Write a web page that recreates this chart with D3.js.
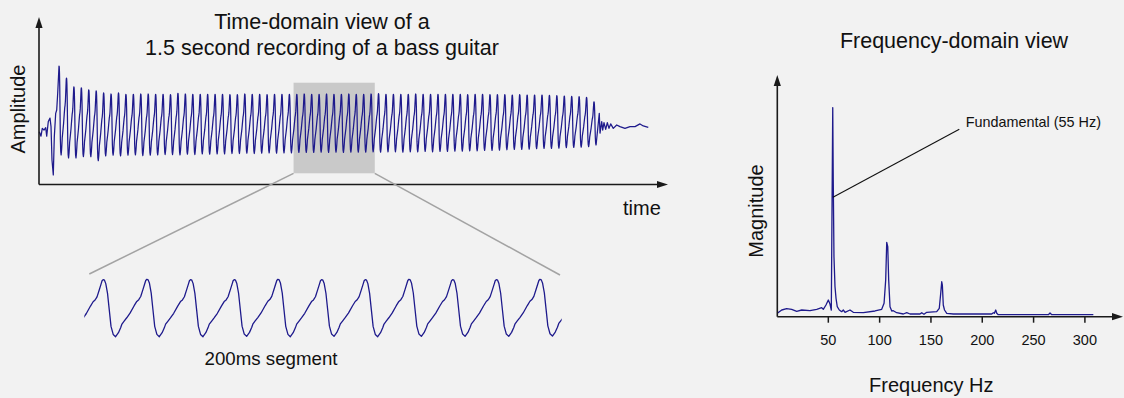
<!DOCTYPE html>
<html>
<head>
<meta charset="utf-8">
<script src="https://cdn.jsdelivr.net/npm/d3@7"></script>
<style>
  html, body { margin: 0; padding: 0; background: #f2f2f2; }
  svg { display: block; font-family: "Liberation Sans", Arial, Helvetica, sans-serif; }
</style>
</head>
<body>
<svg id="chart" width="1124" height="398"></svg>
<script>
// ---------------- time-domain recording (seconds, relative amplitude) ----------------
const recordingLength = 1.5;
const firstPeakTime = 0.0493;       // first string-pluck peak
const period = 0.0183;              // one cycle of the ~55 Hz note

// pick attack before the first full cycle: [time, amplitude]
const onset = [
  [0.0007, -0.11], [0.0049, -0.24], [0.0081, -0.01], [0.0123, -0.06],
  [0.0165, 0.01], [0.0190, -0.24], [0.0229, 0.19], [0.0271, 0.29],
  [0.0296, 0.04], [0.0320, -0.94], [0.0352, -1.38], [0.0377, -0.26],
  [0.0411, 0.43], [0.0436, 0.53], [0.0461, 1.03]
];

// one cycle of the waveform: [phase from peak, level between trough (0) and peak (1)]
const troughPhase = 0.285;
const periodShape = [
  [0, 1], [0.03, 0.99], [0.06, 0.93], [0.10, 0.76], [0.14, 0.47], [0.18, 0.18],
  [0.23, 0.04], [0.285, 0], [0.35, 0.07], [0.40, 0.155], [0.43, 0.22], [0.48, 0.27],
  [0.54, 0.33], [0.615, 0.41], [0.71, 0.54], [0.77, 0.615], [0.815, 0.645],
  [0.86, 0.70], [0.91, 0.82], [0.955, 0.93], [0.975, 0.98]
];

// peak and trough amplitude of each cycle
const cyclePeaks = [
  1.82, 1.47, 1.21, 1.18, 1.12, 1.09, 1.03, 1.00, 1.03, 0.99,
  0.99, 1.00, 1.00, 0.99, 0.99, 0.98, 1.02, 1.00, 0.99, 0.99,
  0.99, 0.99, 0.99, 0.98, 0.98, 1.00, 0.99, 0.99, 0.98, 0.99,
  0.99, 0.99, 0.99, 1.00, 0.99, 0.99, 1.00, 0.99, 0.99, 1.00,
  0.99, 0.99, 1.00, 1.01, 0.99, 0.99, 0.99, 0.99, 1.00, 0.99,
  0.99, 0.99, 0.99, 0.99, 0.99, 0.98, 0.99, 0.99, 0.98, 0.98,
  0.98, 0.97, 0.98, 0.97, 0.97, 0.97, 0.96, 0.95, 0.94, 0.93,
  0.92, 0.90, 0.77
];
const cycleTroughs = [
  -0.79, -0.88, -0.88, -0.84, -0.84, -0.96, -0.82, -0.80, -0.82, -0.80,
  -0.79, -0.81, -0.80, -0.79, -0.78, -0.78, -0.79, -0.77, -0.78, -0.76,
  -0.77, -0.76, -0.76, -0.75, -0.75, -0.74, -0.75, -0.74, -0.73, -0.74,
  -0.73, -0.73, -0.72, -0.72, -0.72, -0.71, -0.72, -0.71, -0.72, -0.71,
  -0.71, -0.71, -0.70, -0.71, -0.70, -0.70, -0.71, -0.70, -0.70, -0.69,
  -0.70, -0.69, -0.69, -0.68, -0.68, -0.67, -0.67, -0.66, -0.66, -0.65,
  -0.64, -0.63, -0.63, -0.62, -0.61, -0.60, -0.60, -0.59, -0.58, -0.57,
  -0.56, -0.55, -0.50
];

// string damped: residual ringing at the end
const tail = [
  [1.3800, 0.43], [1.3818, -0.15], [1.3860, 0.19], [1.3884, -0.06],
  [1.3916, 0.16], [1.3958, -0.04], [1.3998, 0.16], [1.4039, -0.01],
  [1.4081, 0.12], [1.4145, -0.01], [1.4229, 0.09], [1.4310, 0.04],
  [1.4433, -0.01], [1.4557, 0.04], [1.4680, 0.04], [1.4803, 0.12],
  [1.4884, 0.06], [1.5007, 0.02]
];

// the 200 ms excerpt shown enlarged
const segmentWindow = [0.627, 0.827];

// ---------------- frequency-domain view ----------------
const spectrumFreq = [
  0.8, 5.1, 9.9, 14.8, 19.7, 24.6, 32.6, 39.2, 44.0, 45.6, 48.2, 50.5, 52.1, 53.4,
  54.8, 55.3, 56.0, 57.0, 58.0, 59.2, 61.2, 63.5, 65.1, 66.8, 71.6, 74.8, 84.6, 96.0,
  102.5, 104.8, 106.4, 107.4, 108.4, 109.3, 110.6, 112.3, 113.8, 117.1, 123.6, 126.9,
  130.1, 139.8, 141.5, 143.7, 146.4, 156.1, 158.6, 160.0, 161.0, 161.6, 162.5, 163.7,
  165.9, 172.3, 209.7, 211.3, 212.3, 213.6, 214.6, 216.1, 264.9, 266.5, 268.2, 308.7
];
const spectrumMag = [
  1.44, 2.84, 3.39, 3.14, 2.29, 2.84, 2.6, 3.14, 3.8, 3.14, 4.96, 7.08, 5.38, 2.84,
  88.6, 57.9, 25.4, 12.7, 7.8, 4.24, 2.84, 2.12, 2.84, 1.86, 2.84, 1.86, 1.74, 2.42,
  3.14, 5.68, 15.6, 31.5, 29.7, 15.6, 4.24, 2.42, 2.54, 1.69, 1.14, 1.69,
  1.14, 1.14, 1.69, 1.02, 1.86, 2.12, 3.56, 9.9, 14.8, 13.4, 4.96, 2.84,
  1.44, 1.14, 1.14, 1.69, 1.44, 2.84, 1.44, 0.85, 0.85, 1.57, 0.85, 0.85
];
const freqTicks = [50, 100, 150, 200, 250, 300];
const fundamentalFreq = 55;
const fundamentalLabel = "Fundamental (55 Hz)";

// ---------------- build the sampled waveform ----------------
const samples = onset.slice();
cyclePeaks.forEach((peak, k) => {
  const t0 = firstPeakTime + k * period;
  const trough = cycleTroughs[k];
  const next = k + 1 < cyclePeaks.length ? cyclePeaks[k + 1] : null;
  periodShape.forEach(([phase, level]) => {
    if (next === null && phase > troughPhase) return;
    const top = phase <= troughPhase ? peak : next;
    samples.push([t0 + phase * period, trough + level * (top - trough)]);
  });
});
tail.forEach(p => samples.push(p));

// ---------------- drawing ----------------
const svg = d3.select("#chart");
const ink = "#1a1a1a";
const waveColor = "#1e1a8c";

svg.append("rect").attr("width", 1124).attr("height", 398).attr("fill", "#f2f2f2");

function arrowAxis(x1, y1, x2, y2) {
  // axis line ending in a filled arrowhead at (x2, y2)
  const ang = Math.atan2(y2 - y1, x2 - x1);
  const len = 11, half = 3.6;
  const bx = x2 - len * Math.cos(ang), by = y2 - len * Math.sin(ang);
  svg.append("line")
    .attr("x1", x1).attr("y1", y1).attr("x2", bx).attr("y2", by)
    .attr("stroke", ink).attr("stroke-width", 1.6);
  svg.append("path")
    .attr("d", `M${x2},${y2}L${bx - half * Math.sin(ang)},${by + half * Math.cos(ang)}` +
               `L${bx + half * Math.sin(ang)},${by - half * Math.cos(ang)}Z`)
    .attr("fill", ink);
}

// ----- time-domain panel -----
const xTime = d3.scaleLinear().domain([0, recordingLength]).range([39, 648]);
const yAmp = d3.scaleLinear().domain([-1, 1]).range([162, 94]);

// highlighted excerpt
svg.append("rect")
  .attr("x", xTime(segmentWindow[0]))
  .attr("y", 82.7)
  .attr("width", xTime(segmentWindow[1]) - xTime(segmentWindow[0]))
  .attr("height", 173.3 - 82.7)
  .attr("fill", "#c9c9c9");

const waveLine = d3.line().x(d => xTime(d[0])).y(d => yAmp(d[1]));
svg.append("path")
  .datum(samples)
  .attr("d", waveLine)
  .attr("fill", "none")
  .attr("stroke", waveColor)
  .attr("stroke-width", 1.25)
  .attr("stroke-linejoin", "round");

arrowAxis(39, 184.5, 39, 17);
arrowAxis(39, 184.5, 668, 184.5);

svg.append("text").attr("x", 322).attr("y", 29.3).attr("text-anchor", "middle")
  .attr("font-size", 21.5).attr("fill", "#111").text("Time-domain view of a");
svg.append("text").attr("x", 322).attr("y", 55).attr("text-anchor", "middle")
  .attr("font-size", 21.5).attr("fill", "#111").text("1.5 second recording of a bass guitar");
svg.append("text").attr("transform", "translate(25,109) rotate(-90)")
  .attr("text-anchor", "middle").attr("font-size", 20).attr("fill", "#111").text("Amplitude");
svg.append("text").attr("x", 623).attr("y", 215)
  .attr("font-size", 20).attr("fill", "#111").text("time");

// ----- enlarged excerpt -----
const xSeg = d3.scaleLinear().domain(segmentWindow).range([84.3, 561.7]);
const ySeg = d3.scaleLinear().domain([-0.72, 1.0]).range([336.7, 279.3]);

// connector lines from the highlighted box to the excerpt
svg.append("line")
  .attr("x1", xTime(segmentWindow[0])).attr("y1", 173.3)
  .attr("x2", 89.3).attr("y2", 274)
  .attr("stroke", "#a3a3a3").attr("stroke-width", 1.5);
svg.append("line")
  .attr("x1", xTime(segmentWindow[1])).attr("y1", 173.3)
  .attr("x2", 560).attr("y2", 275)
  .attr("stroke", "#a3a3a3").attr("stroke-width", 1.5);

svg.append("clipPath").attr("id", "segClip")
  .append("rect").attr("x", xSeg.range()[0]).attr("y", 260)
  .attr("width", xSeg.range()[1] - xSeg.range()[0]).attr("height", 90);

const segSamples = samples.filter((d, i) => {
  const prev = samples[i - 1], next = samples[i + 1];
  const inside = t => t >= segmentWindow[0] && t <= segmentWindow[1];
  return inside(d[0]) || (next && inside(next[0])) || (prev && inside(prev[0]));
});
svg.append("path")
  .datum(segSamples)
  .attr("clip-path", "url(#segClip)")
  .attr("d", d3.line().x(d => xSeg(d[0])).y(d => ySeg(d[1])))
  .attr("fill", "none")
  .attr("stroke", waveColor)
  .attr("stroke-width", 1.3)
  .attr("stroke-linejoin", "round");

svg.append("text").attr("x", 271).attr("y", 365).attr("text-anchor", "middle")
  .attr("font-size", 18.7).attr("fill", "#111").text("200ms segment");

// ----- frequency-domain panel -----
const xFreq = d3.scaleLinear().domain([0, 300]).range([776.5, 1084.4]);
const yMag = d3.scaleLinear().domain([0, 100]).range([316.7, 80.7]);

svg.append("path")
  .datum(spectrumFreq.map((f, i) => [f, spectrumMag[i]]))
  .attr("d", d3.line().x(d => xFreq(d[0])).y(d => yMag(d[1])))
  .attr("fill", "none")
  .attr("stroke", waveColor)
  .attr("stroke-width", 1.3)
  .attr("stroke-linejoin", "round");

const freqAxis = svg.append("g")
  .attr("transform", `translate(0,${yMag(0)})`)
  .call(d3.axisBottom(xFreq).tickValues(freqTicks).tickSize(6).tickSizeOuter(0));
freqAxis.select(".domain").remove();
freqAxis.selectAll(".tick line").attr("stroke", ink).attr("stroke-width", 1.5);
freqAxis.selectAll(".tick text")
  .attr("y", 28.3).attr("dy", null)
  .attr("font-family", "Liberation Sans, Arial, sans-serif")
  .attr("font-size", 14.5).attr("fill", "#111");

arrowAxis(777.3, 316.7, 777.3, 75);
arrowAxis(777.3, 316.7, 1123, 316.7);

// fundamental callout
const calloutFreq = 178.1, calloutMag = 79.4;
svg.append("line")
  .attr("x1", xFreq(fundamentalFreq)).attr("y1", yMag(50.6))
  .attr("x2", xFreq(calloutFreq)).attr("y2", yMag(calloutMag))
  .attr("stroke", "#111").attr("stroke-width", 1.1);
svg.append("text").attr("x", xFreq(184.4)).attr("y", yMag(80.5))
  .attr("font-size", 14.4).attr("fill", "#111").text(fundamentalLabel);

svg.append("text").attr("x", 954).attr("y", 47.7).attr("text-anchor", "middle")
  .attr("font-size", 21.5).attr("fill", "#111").text("Frequency-domain view");
svg.append("text").attr("transform", "translate(763,211) rotate(-90)")
  .attr("text-anchor", "middle").attr("font-size", 20).attr("fill", "#111").text("Magnitude");
svg.append("text").attr("x", 931.3).attr("y", 392).attr("text-anchor", "middle")
  .attr("font-size", 20).attr("fill", "#111").text("Frequency Hz");
</script>
</body>
</html>
